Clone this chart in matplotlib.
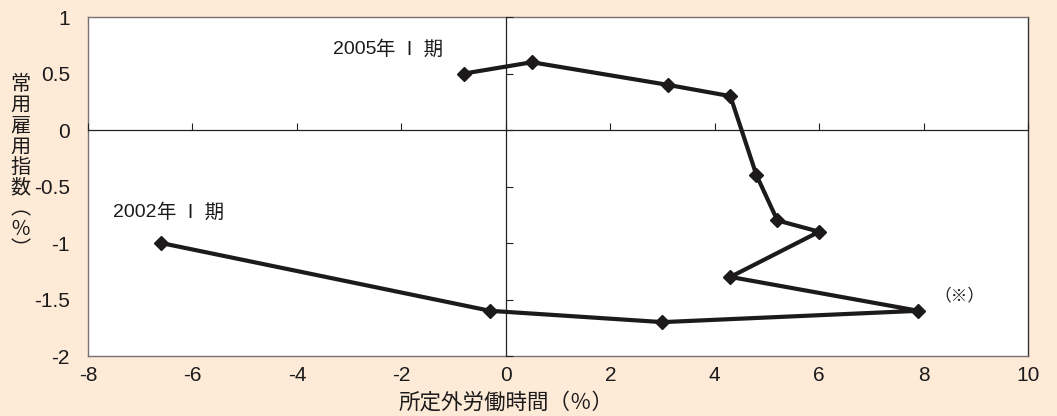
import matplotlib
matplotlib.use("Agg")
import matplotlib.pyplot as plt

plt.rcParams['font.family'] = ['Liberation Sans', 'Noto Sans CJK JP', 'DejaVu Sans']
plt.rcParams['axes.unicode_minus'] = False

# 所定外労働時間（前年比, %）と常用雇用指数（前年比, %）
overtime = [-6.6, -0.3, 3.0, 7.9, 4.3, 6.0, 5.2, 4.8, 4.3, 3.1, 0.5, -0.8]
employment = [-1.0, -1.6, -1.7, -1.6, -1.3, -0.9, -0.8, -0.4, 0.3, 0.4, 0.6, 0.5]

x_ticks = [-8, -6, -4, -2, 0, 2, 4, 6, 8, 10]
y_ticks = [1, 0.5, 0, -0.5, -1, -1.5, -2]
y_tick_labels = ['1', '0.5', '0', '-0.5', '-1', '-1.5', '-2']

bg = '#fdebd8'
ink = '#1c1a1a'
cjk = ['Noto Sans CJK JP']

fig = plt.figure(figsize=(10.57, 4.16), dpi=100, facecolor=bg)
rect = [0.0833, 0.1442, 0.8893, 0.8148]

# outer box with tick labels
ax = fig.add_axes(rect)
ax.set_facecolor('white')
ax.set_xlim(-8, 10)
ax.set_ylim(-2, 1)
ax.set_xticks(x_ticks)
ax.set_yticks(y_ticks)
ax.set_yticklabels(y_tick_labels)
ax.tick_params(length=0, labelsize=15, colors=ink)
ax.tick_params(axis='y', pad=13)
ax.tick_params(axis='x', pad=7)
for side in ['left', 'bottom', 'top']:
    ax.spines[side].set_color('#7a7070')
    ax.spines[side].set_linewidth(1.0)
ax.spines['right'].set_color('#333333')
ax.spines['right'].set_linewidth(1.0)

# zero axes with inward ticks
az = fig.add_axes(rect, sharex=ax, sharey=ax)
az.patch.set_visible(False)
az.spines['left'].set_position(('data', 0))
az.spines['bottom'].set_position(('data', 0))
az.spines['top'].set_visible(False)
az.spines['right'].set_visible(False)
for side in ['left', 'bottom']:
    az.spines[side].set_color('#222222')
    az.spines[side].set_linewidth(0.9)
az.tick_params(direction='in', length=5, width=0.8, color='#222222',
               labelleft=False, labelbottom=False)

az.plot(overtime, employment, color=ink, linewidth=3.0, marker='D',
        markersize=7.5, markerfacecolor=ink, markeredgecolor=ink,
        zorder=5, clip_on=False)

# period labels: digits in Latin font, kanji and roman numeral in CJK font
for x0, y0, year in [(-2.48, 0.71, '2005'), (-6.68, -0.73, '2002')]:
    az.text(x0, y0, year, fontsize=14, color=ink, ha='right', va='center')
    az.text(x0, y0, '年 Ⅰ 期', fontsize=14, color=ink, ha='left',
            va='center', family=cjk)
az.text(8.2, -1.47, '（※）', fontsize=12, color=ink,
        ha='left', va='center', family=cjk)

fig.text(0.479, 0.032, '所定外労働時間（％）', fontsize=15.5, color=ink,
         ha='center', va='center', family=cjk)
fig.text(0.019, 0.597, '常\n用\n雇\n用\n指\n数\n︵\n％\n︶', fontsize=14.5,
         color=ink, ha='center', va='center', linespacing=0.98,
         family=cjk)

fig.savefig('out.png', dpi=100, facecolor=bg)
